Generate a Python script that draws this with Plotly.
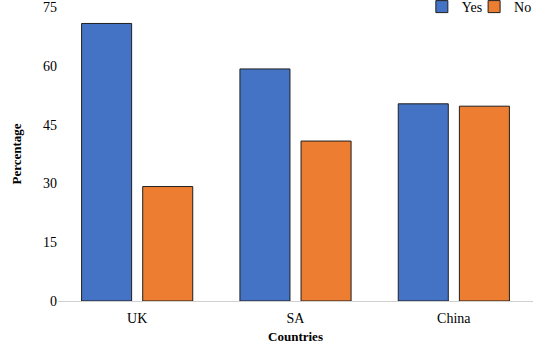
import plotly.graph_objects as go

countries = ["UK", "SA", "China"]
yes_values = [70.8, 59.2, 50.3]
no_values = [29.2, 40.8, 49.7]
y_ticks = [0, 15, 30, 45, 60, 75]

font_family = "Liberation Serif, Times New Roman, serif"

fig = go.Figure()
fig.add_trace(go.Bar(
    x=countries, y=yes_values, name="Yes", legend="legend",
    marker=dict(color="#4472C4", line=dict(color="#1f1f1f", width=1)),
    width=0.316, offset=-0.351,
))
fig.add_trace(go.Bar(
    x=countries, y=no_values, name="No", legend="legend2",
    marker=dict(color="#ED7D31", line=dict(color="#1f1f1f", width=1)),
    width=0.316, offset=0.035,
))

legend_style = dict(orientation="h", xanchor="left", y=1.0, yanchor="middle",
                    font=dict(size=14), bgcolor="rgba(0,0,0,0)", itemwidth=30)

fig.update_layout(
    width=536, height=344,
    margin=dict(l=58, r=3, t=7, b=43, autoexpand=False),
    paper_bgcolor="white", plot_bgcolor="white",
    font=dict(family=font_family, size=14, color="#000000"),
    barmode="group",
    showlegend=True,
    legend=dict(x=0.766, **legend_style),
    legend2=dict(x=0.876, **legend_style),
    xaxis=dict(
        showline=True, linecolor="#d0d0d0", linewidth=1,
        ticks="", showgrid=False, ticklabelstandoff=4,
        title=dict(text="<b>Countries</b>", font=dict(size=13), standoff=8),
        tickfont=dict(size=14),
    ),
    yaxis=dict(
        range=[0, 75], tickvals=y_ticks, showgrid=False, zeroline=False,
        showline=False, ticks="", ticklabeloverflow="allow",
        title=dict(text="<b>Percentage</b>", font=dict(size=13), standoff=18),
        tickfont=dict(size=14),
    ),
)

fig.write_html(
    "out.html",
    config={"displayModeBar": False},
    post_script="document.body.style.margin='0';document.body.style.padding='0';",
)
